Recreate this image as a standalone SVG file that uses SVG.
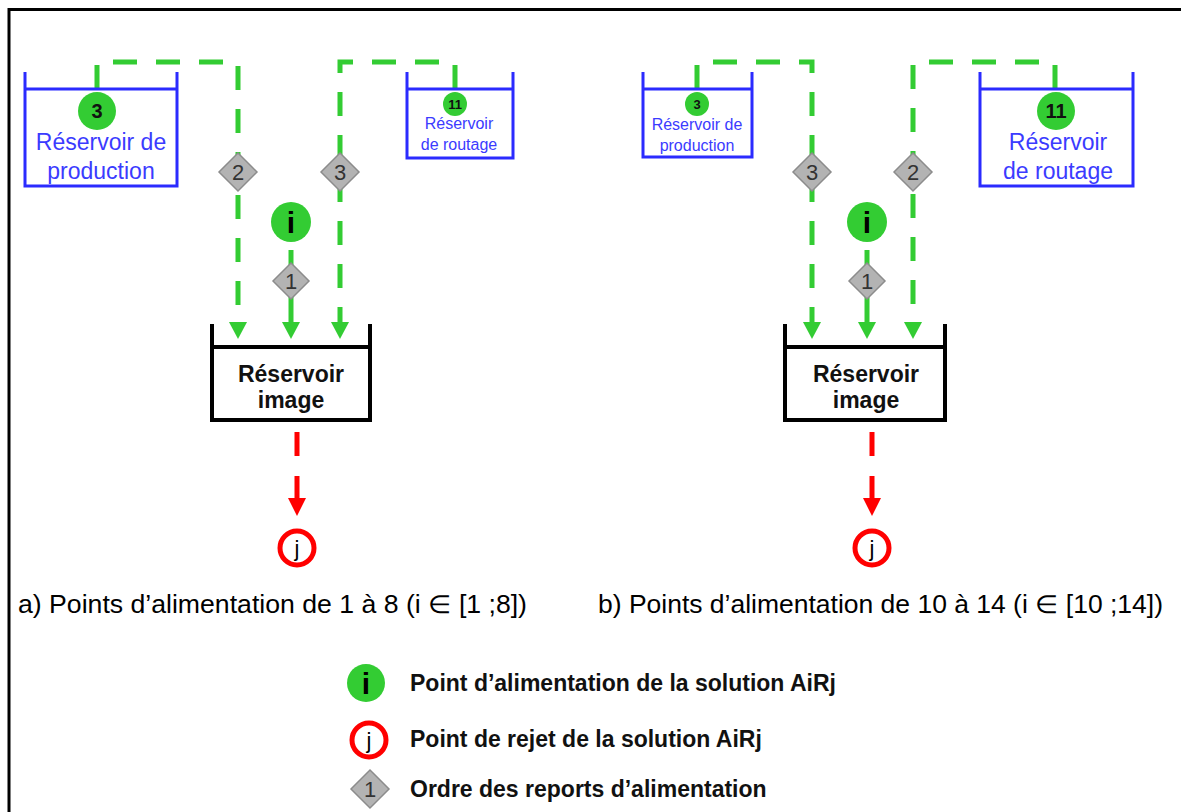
<svg xmlns="http://www.w3.org/2000/svg" width="1181" height="812" viewBox="0 0 1181 812">
<defs>
<style>
.blue{fill:none;stroke:#2b2bff;stroke-width:3}
.blk{fill:none;stroke:#000;stroke-width:4}
.gd{fill:none;stroke:#33cc33;stroke-width:5;stroke-dasharray:24 19}
.gs{fill:none;stroke:#33cc33;stroke-width:5}
.rd{fill:none;stroke:#ff0000;stroke-width:5;stroke-dasharray:24 20}
.gah{fill:#33cc33}
.rah{fill:#ff0000}
.gc{fill:#33cc33}
.rc{fill:#fff;stroke:#ff0000;stroke-width:5}
.dia{fill:#b3b3b3;stroke:#8c8c8c;stroke-width:1.5}
.dt{font-family:"Liberation Sans",Arial,sans-serif;font-size:22px;fill:#333;text-anchor:middle}
.bt{font-family:"Liberation Sans",Arial,sans-serif;fill:#3b3bff;text-anchor:middle}
.kt{font-family:"Liberation Sans",Arial,sans-serif;font-weight:bold;fill:#111;text-anchor:middle}
.it{font-family:"Liberation Sans",Arial,sans-serif;font-weight:bold;font-size:30px;fill:#000;text-anchor:middle}
.jt{font-family:"Liberation Sans",Arial,sans-serif;font-size:22px;fill:#000;text-anchor:middle}
.cap{font-family:"Liberation Sans",Arial,sans-serif;font-size:25px;fill:#000}
.leg{font-family:"Liberation Sans",Arial,sans-serif;font-weight:bold;font-size:23px;fill:#111}
.img{font-family:"Liberation Sans",Arial,sans-serif;font-weight:bold;font-size:23px;fill:#111;text-anchor:middle}
</style>
</defs>
<rect width="1181" height="812" fill="#fff"/>
<path d="M9,812 V9.5 H1181" fill="none" stroke="#000" stroke-width="3"/>

<g id="connectors">
  <path class="gd" d="M97,89 V62 H238 V322"/>
  <path class="gd" d="M455,89 V62 H340 V322"/>
  <path class="gs" d="M291,250 V322"/>
  <polygon class="gah" points="229,322 247,322 238,339"/>
  <polygon class="gah" points="282,322 300,322 291,339"/>
  <polygon class="gah" points="331,322 349,322 340,339"/>
  <path class="rd" d="M297,432 V500"/>
  <polygon class="rah" points="288,498 306,498 297,516"/>

  <path class="gd" d="M697,89 V62 H812 V322"/>
  <path class="gd" d="M1055,89 V62 H913 V322"/>
  <path class="gs" d="M867,250 V322"/>
  <polygon class="gah" points="803,322 821,322 812,339"/>
  <polygon class="gah" points="858,322 876,322 867,339"/>
  <polygon class="gah" points="904,322 922,322 913,339"/>
  <path class="rd" d="M872,432 V500"/>
  <polygon class="rah" points="863,498 881,498 872,516"/>
</g>

<g id="a-production">
  <path class="blue" d="M25,72 V186 H177 V72 M25,89 H177"/>
  <circle class="gc" cx="97" cy="111" r="19"/>
  <text class="kt" x="97" y="118" font-size="20">3</text>
  <text class="bt" x="101" y="150" font-size="23">Réservoir de</text>
  <text class="bt" x="101" y="179" font-size="23">production</text>
</g>
<g id="a-routage">
  <path class="blue" d="M407,72 V158 H513 V72 M407,89 H513"/>
  <circle class="gc" cx="455" cy="104" r="12"/>
  <text class="kt" x="455" y="109" font-size="13">11</text>
  <text class="bt" x="459" y="129" font-size="16">Réservoir</text>
  <text class="bt" x="459" y="150" font-size="16">de routage</text>
</g>
<g id="a-d2">
  <polygon class="dia" points="238,153 257,172 238,191 219,172"/>
  <text class="dt" x="238" y="180">2</text>
</g>
<g id="a-d3">
  <polygon class="dia" points="340,153 359,172 340,191 321,172"/>
  <text class="dt" x="340" y="180">3</text>
</g>
<g id="a-i">
  <circle class="gc" cx="291" cy="222" r="20"/>
  <text class="it" x="291" y="233">i</text>
</g>
<g id="a-d1">
  <polygon class="dia" points="291,263 309,281 291,299 273,281"/>
  <text class="dt" x="291" y="289">1</text>
</g>
<g id="a-image">
  <path class="blk" d="M212,324 V420 H370 V324 M212,347 H370"/>
  <text class="img" x="291" y="382">Réservoir</text>
  <text class="img" x="291" y="408">image</text>
</g>
<g id="a-j">
  <circle class="rc" cx="297" cy="548" r="17"/>
  <text class="jt" x="297" y="556">j</text>
</g>
<text class="cap" x="18" y="613" textLength="509" lengthAdjust="spacingAndGlyphs">a) Points d’alimentation de 1 à 8 (i ∈ [1 ;8])</text>

<g id="b-production">
  <path class="blue" d="M643,72 V157 H752 V72 M643,89 H752"/>
  <circle class="gc" cx="697" cy="104" r="12"/>
  <text class="kt" x="697" y="109" font-size="13">3</text>
  <text class="bt" x="697" y="130" font-size="16">Réservoir de</text>
  <text class="bt" x="697" y="151" font-size="16">production</text>
</g>
<g id="b-routage">
  <path class="blue" d="M980,72 V186 H1133 V72 M980,89 H1133"/>
  <circle class="gc" cx="1056" cy="111" r="19"/>
  <text class="kt" x="1056" y="118" font-size="20">11</text>
  <text class="bt" x="1058" y="150" font-size="23">Réservoir</text>
  <text class="bt" x="1058" y="179" font-size="23">de routage</text>
</g>
<g id="b-d3">
  <polygon class="dia" points="812,153 831,172 812,191 793,172"/>
  <text class="dt" x="812" y="180">3</text>
</g>
<g id="b-d2">
  <polygon class="dia" points="913,153 932,172 913,191 894,172"/>
  <text class="dt" x="913" y="180">2</text>
</g>
<g id="b-i">
  <circle class="gc" cx="867" cy="222" r="20"/>
  <text class="it" x="867" y="233">i</text>
</g>
<g id="b-d1">
  <polygon class="dia" points="867,263 885,281 867,299 849,281"/>
  <text class="dt" x="867" y="289">1</text>
</g>
<g id="b-image">
  <path class="blk" d="M785,324 V420 H945 V324 M785,347 H945"/>
  <text class="img" x="866" y="382">Réservoir</text>
  <text class="img" x="866" y="408">image</text>
</g>
<g id="b-j">
  <circle class="rc" cx="872" cy="548" r="17"/>
  <text class="jt" x="872" y="556">j</text>
</g>
<text class="cap" x="598" y="613" textLength="565" lengthAdjust="spacingAndGlyphs">b) Points d’alimentation de 10 à 14 (i ∈ [10 ;14])</text>

<g id="legend">
  <circle class="gc" cx="366" cy="683" r="19"/>
  <text class="it" x="366" y="694" font-size="28">i</text>
  <text class="leg" x="410" y="691">Point d’alimentation de la solution AiRj</text>
  <circle class="rc" cx="369" cy="740" r="17"/>
  <text class="jt" x="369" y="748">j</text>
  <text class="leg" x="410" y="747">Point de rejet de la solution AiRj</text>
  <polygon class="dia" points="370,770 389,789 370,808 351,789"/>
  <text class="dt" x="370" y="797">1</text>
  <text class="leg" x="410" y="797">Ordre des reports d’alimentation</text>
</g>
</svg>
